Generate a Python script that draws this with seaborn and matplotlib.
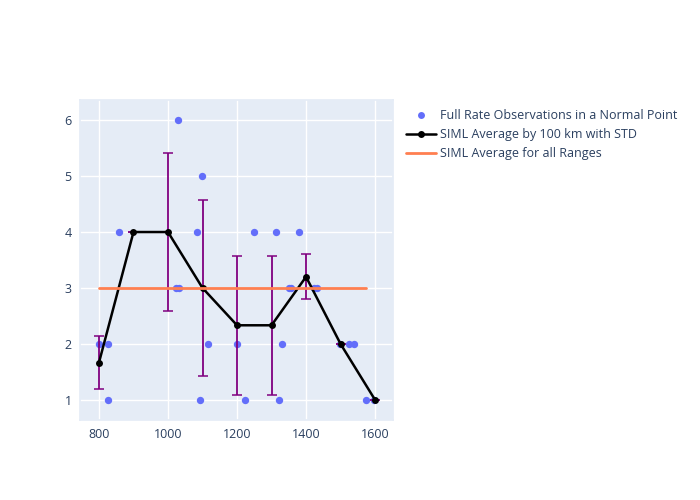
import matplotlib
matplotlib.use("Agg")
import matplotlib.pyplot as plt
from matplotlib.lines import Line2D
import seaborn as sns
import pandas as pd

# ── Data ───────────────────────────────────────────────────────────────────────
obs_range = [801, 825, 826, 858, 1022, 1028, 1032, 1083, 1093, 1099, 1117,
             1199, 1223, 1248, 1314, 1323, 1329, 1351, 1356, 1380, 1424, 1433,
             1498, 1524, 1538, 1574, 1598]
obs_rate = [2, 2, 1, 4, 3, 6, 3, 4, 1, 5, 2,
            2, 1, 4, 4, 1, 2, 3, 3, 4, 3, 3,
            2, 2, 2, 1, 1]

bin_range = [800, 900, 1000, 1100, 1200, 1300, 1400, 1500, 1600]
bin_mean = [1.667, 4.0, 4.0, 3.0, 2.333, 2.333, 3.2, 2.0, 1.0]
bin_std = [0.471, 0.0, 1.414, 1.581, 1.247, 1.247, 0.4, 0.0, 0.0]

all_range = [800, 1575]
all_mean = [3.0, 3.0]

LABELS = [
    "Full Rate Observations in a Normal Point",
    "SIML Average by 100 km with STD",
    "SIML Average for all Ranges",
]

# ── Style (plotly-like) ────────────────────────────────────────────────────────
sns.set_theme(style="darkgrid", rc={
    "axes.facecolor": "#E5ECF6",
    "grid.color": "white",
    "grid.linewidth": 1.0,
    "axes.edgecolor": "#E5ECF6",
})
plt.rcParams["font.family"] = ["Open Sans", "DejaVu Sans"]
TEXT = "#2a3f5f"

fig = plt.figure(figsize=(7, 5), dpi=100)
ax = fig.add_axes([80 / 700, 80 / 500, 313 / 700, 320 / 500])

obs = pd.DataFrame({"range": obs_range, "rate": obs_rate})
avg = pd.DataFrame({"range": bin_range, "mean": bin_mean, "std": bin_std})
overall = pd.DataFrame({"range": all_range, "mean": all_mean})

sns.scatterplot(data=obs, x="range", y="rate", ax=ax, color="#636EFA",
                s=28, linewidth=0, zorder=3)

ax.errorbar(avg["range"], avg["mean"], yerr=avg["std"], fmt="none",
            ecolor="purple", elinewidth=1.3, capsize=3.5, capthick=1.1, zorder=4)

sns.lineplot(data=avg, x="range", y="mean", ax=ax, color="black", linewidth=1.8,
             marker="o", markersize=5, markeredgewidth=0, estimator=None,
             sort=False, zorder=5)

sns.lineplot(data=overall, x="range", y="mean", ax=ax, color="#FF7F50",
             linewidth=2, estimator=None, zorder=6)

ax.set_xlim(745, 1652)
ax.set_ylim(0.64, 6.36)
ax.set_xticks([800, 1000, 1200, 1400, 1600])
ax.set_yticks([1, 2, 3, 4, 5, 6])
ax.set_xlabel("")
ax.set_ylabel("")
ax.tick_params(length=0, labelsize=9, labelcolor=TEXT, pad=6)
ax.grid(True)

handles = [
    Line2D([], [], linestyle="none", marker="o", markersize=5,
           markerfacecolor="#636EFA", markeredgewidth=0),
    Line2D([], [], color="black", linewidth=1.8, marker="o", markersize=5,
           markeredgewidth=0),
    Line2D([], [], color="#FF7F50", linewidth=2),
]
leg = fig.legend(handles, LABELS, loc="upper left",
                 bbox_to_anchor=(406 / 700, 1 - 109 / 500), frameon=False,
                 fontsize=9, handlelength=2.4, handletextpad=0.3,
                 labelspacing=0.5, borderaxespad=0, borderpad=0)
for t in leg.get_texts():
    t.set_color(TEXT)

fig.savefig("out.png", dpi=100)
